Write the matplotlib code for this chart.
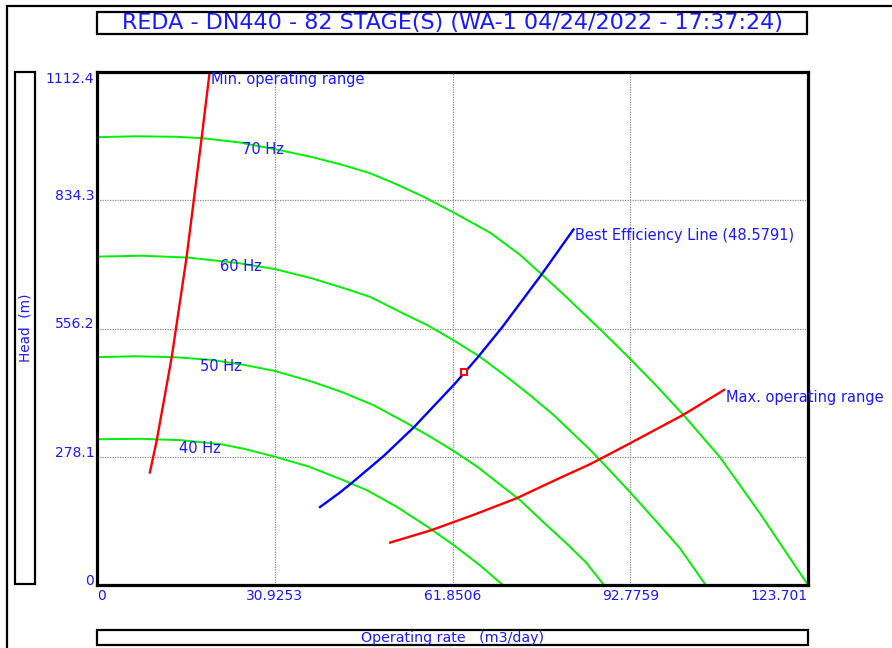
import matplotlib
matplotlib.use("Agg")
import matplotlib.pyplot as plt
from matplotlib.patches import Rectangle

# ---------------- data ----------------
title = "REDA - DN440 - 82 STAGE(S) (WA-1 04/24/2022 - 17:37:24)"
x_label = "Operating rate   (m3/day)"
y_label = "Head  (m)"

x_ticks = [0, 30.9253, 61.8506, 92.7759, 123.701]
x_tick_labels = ["0", "30.9253", "61.8506", "92.7759", "123.701"]
y_ticks = [0, 278.1, 556.2, 834.3, 1112.4]
y_tick_labels = ["0", "278.1", "556.2", "834.3", "1112.4"]

hz70_q = [0, 6.6, 13.6, 18.2, 24.6, 31.0, 37.4, 42.7, 47.5, 52.1, 56.8, 62.0, 68.4,
          73.6, 77.6, 81.7, 85.8, 87.5, 92.7, 97.4, 102.0, 108.4, 115.3, 123.7]
hz70_h = [971, 973, 972, 969, 960, 945, 928, 911, 893, 869, 842, 808, 764,
          716, 671, 624, 575, 555, 491, 431, 369, 277, 156, 0]

hz60_q = [0, 7.8, 15.9, 24.6, 31.0, 37.4, 43.1, 47.5, 53.9, 57.4, 62.0, 66.6, 70.7,
          75.3, 79.4, 85.8, 87.5, 92.7, 96.8, 101.4, 105.9]
hz60_h = [712, 714, 710, 698, 685, 665, 643, 625, 585, 564, 531, 495, 457,
          412, 369, 293, 271, 202, 145, 80, 0]

hz50_q = [0, 6.6, 13.6, 20.0, 25.7, 31.0, 37.4, 42.7, 48.1, 53.9, 57.9, 62.0, 66.1,
          69.5, 73.6, 77.6, 81.7, 85.0, 88.2]
hz50_h = [494, 496, 494, 488, 477, 464, 441, 418, 390, 351, 322, 291, 257,
          224, 184, 137, 90, 50, 0]

hz40_q = [0, 7.8, 14.7, 21.7, 25.7, 31.0, 36.8, 42.7, 46.9, 52.1, 57.9, 62.0, 66.6, 70.6]
hz40_h = [316, 317, 314, 305, 295, 278, 257, 228, 206, 170, 123, 87, 43, 0]

min_q = [9.2, 10.4, 13.0, 15.6, 18.2, 19.6]
min_h = [244, 314, 494, 712, 969, 1112.4]

max_q = [51.0, 58.2, 65.5, 73.0, 80.0, 85.8, 92.7, 102.0, 109.1]
max_h = [92, 119, 152, 188, 229, 262, 307, 369, 423]

bep_q = [38.8, 42.2, 44.3, 49.9, 55.2, 62.3, 66.2, 70.5, 77.5, 82.9]
bep_h = [169, 200, 221, 280, 343, 437, 493, 559, 676, 771]

op_q = [63.9]
op_h = [462]

hz_labels = ["70 Hz", "60 Hz", "50 Hz", "40 Hz"]

# ---------------- drawing ----------------
W, H = 892, 648
BLUE_TXT = "#1a1aff"
plt.rcParams["font.family"] = ["DejaVu Sans"]

fig = plt.figure(figsize=(W / 100, H / 100), dpi=100)
fig.patch.set_facecolor("white")


def fx(px):
    return px / W


def fy(py):
    return 1 - py / H


ax = fig.add_axes([fx(97), fy(585), fx(808) - fx(97), fy(72) - fy(585)])
ax.set_xlim(0, 123.701)
ax.set_ylim(0, 1112.4)

ax.grid(True, color="#8a8a8a", linestyle=(0, (1, 1)), linewidth=0.9)
ax.set_axisbelow(True)

green = "#00f000"
for q, h in [(hz70_q, hz70_h), (hz60_q, hz60_h), (hz50_q, hz50_h), (hz40_q, hz40_h)]:
    ax.plot(q, h, color=green, lw=1.4, solid_joinstyle="round")

ax.plot(min_q, min_h, color="#ff0000", lw=1.7)
ax.plot(max_q, max_h, color="#ff0000", lw=1.7)
ax.plot(bep_q, bep_h, color="#0000ff", lw=1.7)
ax.plot(op_q, op_h, marker="s", ms=4.5, mfc="white", mec="#ff0000", mew=1.4, ls="none")

ax.set_xticks(x_ticks)
ax.set_xticklabels(x_tick_labels)
ax.set_yticks(y_ticks)
ax.set_yticklabels(y_tick_labels)
ax.tick_params(length=0, labelcolor=BLUE_TXT, labelsize=10)
ax.tick_params(axis="x", pad=3)
ax.tick_params(axis="y", pad=2)
xl = ax.get_xticklabels()
xl[0].set_ha("left")
xl[-1].set_ha("right")
yl = ax.get_yticklabels()
for t in yl:
    t.set_va("baseline")
yl[-1].set_va("top")

for s in ax.spines.values():
    s.set_linewidth(2.3)
    s.set_color("black")

fs_ann = 10.5
hz_pos = [(25.2, 945), (21.4, 690), (17.9, 473), (14.3, 296)]
for lab, (q, h) in zip(hz_labels, hz_pos):
    ax.text(q, h, lab, color=BLUE_TXT, fontsize=fs_ann, ha="left", va="center")

ax.text(19.9, 1097, "Min. operating range", color=BLUE_TXT, fontsize=fs_ann,
        ha="left", va="center")
ax.text(83.2, 757, "Best Efficiency Line (48.5791)", color=BLUE_TXT, fontsize=fs_ann,
        ha="left", va="center")
ax.text(109.4, 406, "Max. operating range", color=BLUE_TXT, fontsize=fs_ann,
        ha="left", va="center", clip_on=False)

# outer frame (extends beyond the image to the right and bottom)
fig.add_artist(Rectangle((fx(7), fy(1200)), fx(1200) - fx(7), fy(6) - fy(1200),
                         transform=fig.transFigure, fill=False, ec="black", lw=1.6))

# title box
fig.add_artist(Rectangle((fx(97), fy(34)), fx(807) - fx(97), fy(12) - fy(34),
                         transform=fig.transFigure, fill=False, ec="black", lw=1.6))
fig.text(fx(452), fy(23.5), title, ha="center", va="center", fontsize=16, color=BLUE_TXT)

# y-label box
fig.add_artist(Rectangle((fx(15), fy(584)), fx(35) - fx(15), fy(72) - fy(584),
                         transform=fig.transFigure, fill=False, ec="black", lw=1.6))
fig.text(fx(25.5), fy(328), y_label, ha="center", va="center", rotation=90,
         fontsize=9.8, color=BLUE_TXT)

# x-label box
fig.add_artist(Rectangle((fx(97), fy(645)), fx(808) - fx(97), fy(630) - fy(645),
                         transform=fig.transFigure, fill=False, ec="black", lw=1.6))
fig.text(fx(452.5), fy(638), x_label, ha="center", va="center", fontsize=10.3, color=BLUE_TXT)

fig.savefig("out.png", dpi=100)
